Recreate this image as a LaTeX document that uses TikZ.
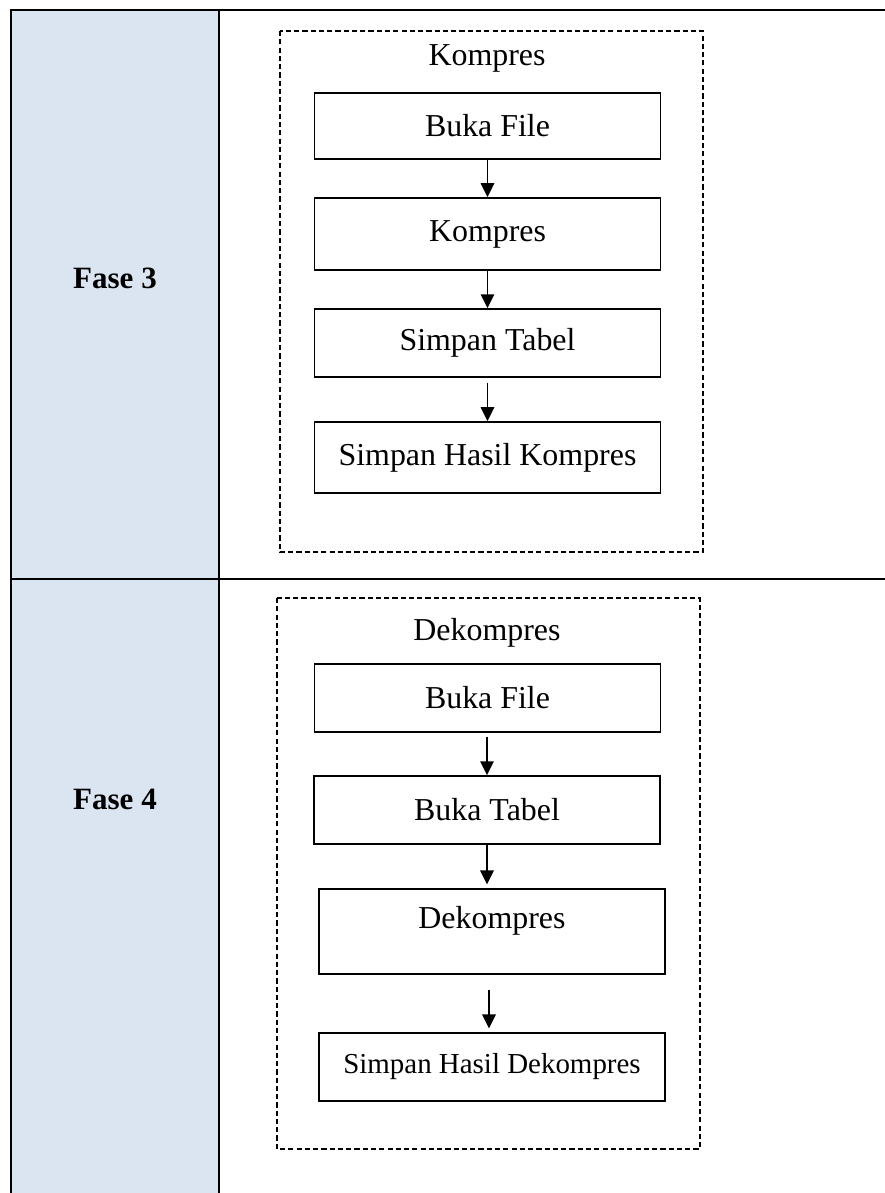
\documentclass[tikz,border=0pt]{standalone}
\usepackage{fontspec}
\setmainfont{Liberation Serif}
\usetikzlibrary{arrows.meta, positioning}
\definecolor{kolomfase}{HTML}{DBE5F1}
\tikzset{
    garis/.style={line width=0.9pt},
    langkah/.style={draw, line width=0.6pt, minimum width=134pt, inner sep=0pt,
                    font=\fontsize{12.35}{14}\selectfont},
    kelompok/.style={draw, line width=0.55pt, dash pattern=on 2pt off 1.2pt},
    judul/.style={font=\fontsize{12.35}{14}\selectfont},
    fase/.style={font=\fontsize{12}{14}\selectfont\bfseries},
    panah/.style={line width=0.65pt, -{Triangle[length=5.4pt,width=5.2pt]}}
}
\begin{document}
\begin{tikzpicture}[x=0.387pt, y=-0.387pt]
        \useasboundingbox (0,0) rectangle (885,1193);
        % tabel
        \fill[kolomfase] (11,10) rectangle (219,1193);
        \draw[garis] (885,10) -- (11,10) -- (11,1193);
        \draw[garis] (219,10) -- (219,1193);
        \draw[garis] (11,579) -- (885,579);
        \node[fase] (f3) at (115,278) {Fase 3};
        \node[fase] (f4) at (115,799) {Fase 4};

        % fase 3
        \draw[kelompok] (280,31) rectangle (703,552);
        \node[judul] (jk) at (487,58) {Kompres};
        \node[langkah, minimum height=25.5pt] (k1) at (487.5,126) {Buka File};
        \node[langkah, minimum height=27.9pt] (k2) at (487.5,234) {Kompres};
        \node[langkah, minimum height=26.3pt] (k3) at (487.5,343) {Simpan Tabel};
        \node[langkah, minimum height=27.5pt] (k4) at (487.5,457.5) {Simpan Hasil Kompres};
        \path[panah]    (k1) edge                    (k2)
                        (k2) edge                    (k3)
                        (k3) edge[shorten <=2pt]     (k4)
        ;

        % fase 4
        \draw[kelompok] (277,598) rectangle (700,1149);
        \node[judul] (jd) at (487,633) {Dekompres};
        \node[langkah, minimum height=26.3pt] (d1) at (487.5,698) {Buka File};
        \node[langkah, minimum height=26.3pt] (d2) at (487,810)   {Buka Tabel};
        \node[langkah, minimum height=32.9pt, text height=8.5pt, text depth=11pt] (d3) at (492,931.5) {Dekompres};
        \node[langkah, minimum height=26.3pt, font=\fontsize{11.2}{13}\selectfont] (d4) at (492,1067) {Simpan Hasil Dekompres};
        \path[panah]    (d1.south -| d2) edge[shorten <=1.5pt]                (d2)
                        (d2) edge[shorten >=1.5pt]                            (d2 |- d3.north)
                        (d3.south -| 489,0) edge[shorten <=6pt, shorten >=1.5pt] (d4.north -| 489,0)
        ;
\end{tikzpicture}
\end{document}
